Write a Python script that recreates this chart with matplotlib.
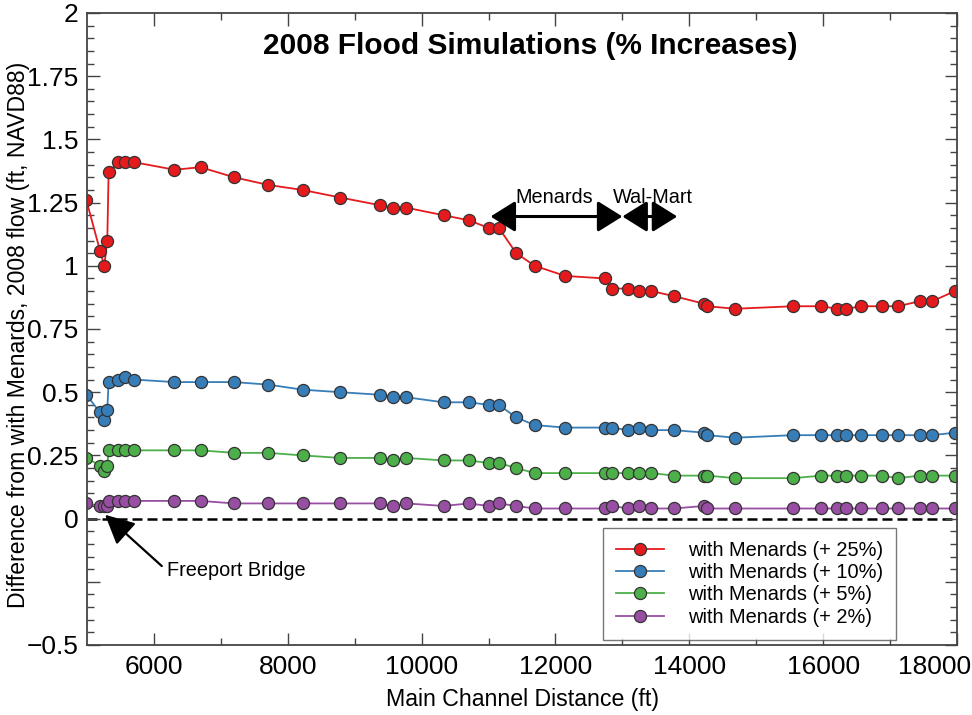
import matplotlib
matplotlib.use('Agg')
import matplotlib.pyplot as plt
from matplotlib.transforms import ScaledTranslation

plt.rcParams['font.family'] = ['Liberation Sans', 'DejaVu Sans']

# main channel distance (ft), shared by all four runs
distance = [4990, 5194, 5258, 5303, 5323, 5468, 5572, 5701, 6307, 6697, 7199, 7706, 8222,
            8785, 9373, 9572, 9771, 10328, 10706, 11000, 11154, 11413, 11691, 12144, 12736,
            12850, 13077, 13243, 13433, 13772, 14219, 14269, 14687, 15547, 15975, 16213,
            16348, 16572, 16876, 17119, 17443, 17631, 17970]

inc_25 = [1.26, 1.06, 1.00, 1.10, 1.37, 1.41, 1.41, 1.41, 1.38, 1.39, 1.35, 1.32, 1.30,
          1.27, 1.24, 1.23, 1.23, 1.20, 1.18, 1.15, 1.15, 1.05, 1.00, 0.96, 0.95,
          0.91, 0.91, 0.90, 0.90, 0.88, 0.85, 0.84, 0.83, 0.84, 0.84, 0.83,
          0.83, 0.84, 0.84, 0.84, 0.86, 0.86, 0.90]
inc_10 = [0.49, 0.42, 0.39, 0.43, 0.54, 0.55, 0.56, 0.55, 0.54, 0.54, 0.54, 0.53, 0.51,
          0.50, 0.49, 0.48, 0.48, 0.46, 0.46, 0.45, 0.45, 0.40, 0.37, 0.36, 0.36,
          0.36, 0.35, 0.36, 0.35, 0.35, 0.34, 0.33, 0.32, 0.33, 0.33, 0.33,
          0.33, 0.33, 0.33, 0.33, 0.33, 0.33, 0.34]
inc_5 = [0.24, 0.21, 0.19, 0.21, 0.27, 0.27, 0.27, 0.27, 0.27, 0.27, 0.26, 0.26, 0.25,
         0.24, 0.24, 0.23, 0.24, 0.23, 0.23, 0.22, 0.22, 0.20, 0.18, 0.18, 0.18,
         0.18, 0.18, 0.18, 0.18, 0.17, 0.17, 0.17, 0.16, 0.16, 0.17, 0.17,
         0.17, 0.17, 0.17, 0.16, 0.17, 0.17, 0.17]
inc_2 = [0.06, 0.05, 0.05, 0.05, 0.07, 0.07, 0.07, 0.07, 0.07, 0.07, 0.06, 0.06, 0.06,
         0.06, 0.06, 0.05, 0.06, 0.05, 0.06, 0.05, 0.06, 0.05, 0.04, 0.04, 0.04,
         0.05, 0.04, 0.05, 0.04, 0.04, 0.05, 0.04, 0.04, 0.04, 0.04, 0.04,
         0.04, 0.04, 0.04, 0.04, 0.04, 0.04, 0.04]

series = [inc_25, inc_10, inc_5, inc_2]
labels = ['with Menards (+ 25%)', 'with Menards (+ 10%)',
          'with Menards (+ 5%)', 'with Menards (+ 2%)']
colors = ['#e41a1c', '#377eb8', '#4daf4a', '#984ea3']

x_ticks = [6000, 8000, 10000, 12000, 14000, 16000, 18000]
y_ticks = [-0.5, -0.25, 0, 0.25, 0.5, 0.75, 1, 1.25, 1.5, 1.75, 2]
y_labels = ['\u22120.5', '', '0', '0.25', '0.5', '0.75', '1', '1.25', '1.5', '1.75', '2']

fig = plt.figure(figsize=(9.72, 7.15), dpi=100)
ax = fig.add_axes([87/972, 70/715, 870/972, 632/715])

for vals, lab, col in zip(series, labels, colors):
    ax.plot(distance, vals, color=col, lw=1.3, marker='o', ms=8.7,
            markerfacecolor=col, markeredgecolor='#333333', markeredgewidth=0.9,
            label=lab)

ax.axhline(0, color='black', ls=(0, (4, 2)), lw=1.8, zorder=1)

ax.set_xlim(5000, 18000)
ax.set_ylim(-0.5, 2)
ax.set_xticks(x_ticks)
ax.set_xticks(range(7000, 18000, 2000), minor=True)
ax.set_yticks(y_ticks)
ax.set_yticklabels(y_labels)
ax.set_yticks([v / 100 for v in range(-50, 201, 5)], minor=True)

ax.tick_params(which='both', direction='in', top=True, right=True,
               colors='#444444', labelcolor='black', labelsize=19)
ax.tick_params(which='major', length=9, width=1)
ax.tick_params(which='minor', length=5, width=1)
ax.tick_params(axis='x', pad=7)
ax.tick_params(axis='y', pad=6)
# last x label sits left of its tick, as in the original
last = ax.get_xticklabels()[-1]
last.set_transform(last.get_transform() + ScaledTranslation(-0.22, 0, fig.dpi_scale_trans))
for s in ax.spines.values():
    s.set_color('#444444')
    s.set_linewidth(1.3)

ax.set_xlabel('Main Channel Distance (ft)', fontsize=16.7)
ax.set_ylabel('Difference from with Menards, 2008 flow (ft, NAVD88)', fontsize=16.6)
ax.xaxis.set_label_coords(0.5, -0.087)
ax.yaxis.set_label_coords(-0.079, 0.49)
ax.xaxis.label.set_va('center')
ax.yaxis.label.set_va('center')

ax.text(11627, 1.87, '2008 Flood Simulations (% Increases)', fontsize=21.5,
        fontweight='bold', ha='center', va='center')

# reach arrows
ax.annotate('', xy=(11030, 1.195), xytext=(13000, 1.195),
            arrowprops=dict(arrowstyle='<|-|>,head_length=0.8,head_width=0.5',
                            color='black', lw=2.2, mutation_scale=19,
                            shrinkA=0, shrinkB=0))
ax.annotate('', xy=(13000, 1.195), xytext=(13820, 1.195),
            arrowprops=dict(arrowstyle='<|-|>,head_length=0.8,head_width=0.5',
                            color='black', lw=2.2, mutation_scale=19,
                            shrinkA=0, shrinkB=0))
ax.text(11980, 1.27, 'Menards', fontsize=14.3, ha='center', va='center')
ax.text(13450, 1.27, 'Wal-Mart', fontsize=14.3, ha='center', va='center')

ax.annotate('Freeport Bridge', xy=(5270, 0.015), xytext=(6190, -0.205),
            fontsize=14.3, ha='left', va='center',
            arrowprops=dict(arrowstyle='-|>,head_length=0.9,head_width=0.45',
                            color='black', lw=1.6, mutation_scale=20,
                            shrinkA=2, shrinkB=0, relpos=(0, 0.5)))

leg = ax.legend(loc='upper left', bbox_to_anchor=(0.593, 0.185), borderaxespad=0,
                fontsize=14.4, frameon=True, fancybox=False, handlelength=2.4,
                handletextpad=1.2, labelspacing=0.16, borderpad=0.65)
leg.get_frame().set_edgecolor('#555555')
leg.get_frame().set_linewidth(1)

plt.savefig('out.png', dpi=100)
